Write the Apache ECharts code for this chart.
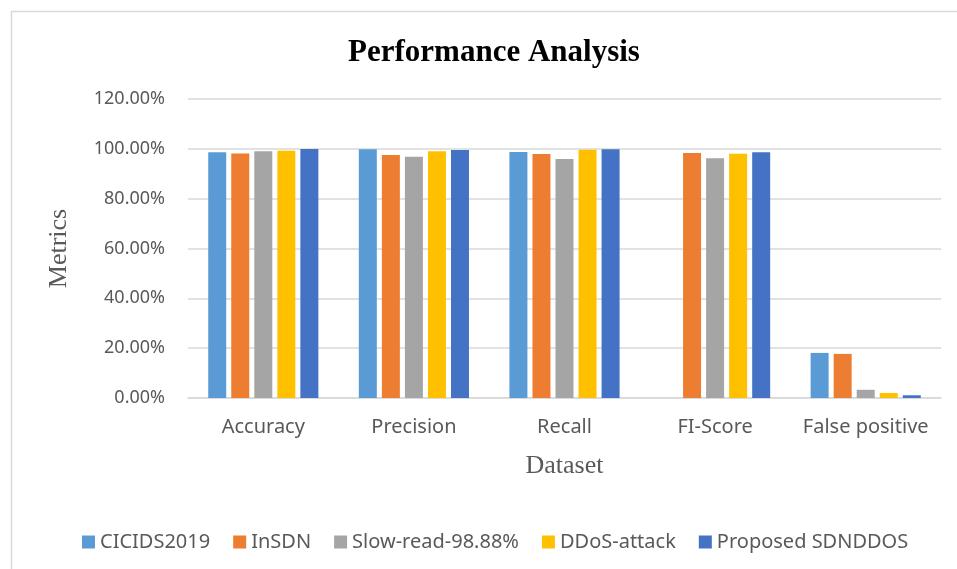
<!DOCTYPE html>
<html>
<head>
<meta charset="utf-8">
<script src="https://cdn.jsdelivr.net/npm/echarts@6/dist/echarts.min.js"></script>
<style>
html, body { margin: 0; padding: 0; background: #fff; }
#main { width: 957px; height: 569px; }
</style>
</head>
<body>
<div id="main"></div>
<script>
// categories + series values (percent)
var categories = ["Accuracy", "Precision", "Recall", "FI-Score", "False positive"];
var seriesNames = ["CICIDS2019", "InSDN", "Slow-read-98.88%", "DDoS-attack", "Proposed SDNDDOS"];
var cicids = [98.6, 99.8, 98.7, null, 18.1];
var insdn = [98.1, 97.5, 97.9, 98.3, 17.7];
var slowRead = [99.0, 96.8, 95.9, 96.2, 3.3];
var ddos = [99.2, 99.0, 99.6, 98.0, 2.0];
var proposed = [99.9, 99.5, 99.8, 98.6, 1.1];
var yTicks = [0, 20, 40, 60, 80, 100, 120];

var colors = ["#5B9BD5", "#ED7D31", "#A5A5A5", "#FFC000", "#4472C4"];
var allData = [cicids, insdn, slowRead, ddos, proposed];

var myChart = echarts.init(document.getElementById("main"));

var series = [];
seriesNames.forEach(function (name, i) {
  series.push({
    name: name,
    type: "bar",
    data: allData[i],
    barWidth: 18,
    barGap: "28%",
    itemStyle: { color: colors[i] }
  });
});

myChart.setOption({
  animation: false,
  color: colors,
  title: {
    text: "Performance Analysis",
    left: 489,
    textAlign: "center",
    top: 32,
    textStyle: {
      fontFamily: "Liberation Serif",
      fontWeight: "bold",
      fontSize: 31,
      color: "#000"
    }
  },
  legend: {
    data: seriesNames,
    left: 77,
    top: 527,
    itemWidth: 13,
    itemHeight: 13,
    itemGap: 23,
    icon: "rect",
    textStyle: { fontFamily: "Noto Sans", fontSize: 20, color: "#595959" }
  },
  grid: { left: 188, right: 16, top: 99, bottom: 171 },
  xAxis: {
    type: "category",
    data: categories,
    name: "Dataset",
    nameLocation: "middle",
    nameGap: 55,
    nameTextStyle: { fontFamily: "Liberation Serif", fontSize: 26, color: "#595959" },
    axisLine: { lineStyle: { color: "#D9D9D9", width: 1.5 } },
    axisTick: { show: false },
    axisLabel: { interval: 0, hideOverlap: false, margin: 19, fontFamily: "Noto Sans", fontSize: 20, color: "#595959" }
  },
  yAxis: {
    type: "value",
    min: yTicks[0],
    max: yTicks[yTicks.length - 1],
    interval: 20,
    name: "Metrics",
    nameLocation: "middle",
    nameGap: 116,
    nameTextStyle: { fontFamily: "Liberation Serif", fontSize: 26, color: "#595959" },
    axisLine: { show: false },
    axisTick: { show: false },
    splitLine: { lineStyle: { color: "#D9D9D9", width: 1.5 } },
    axisLabel: {
      margin: 23,
      fontFamily: "Noto Sans",
      fontSize: 18,
      color: "#595959",
      formatter: function (v) { return v.toFixed(2) + "%"; }
    }
  },
  graphic: [{
    type: "rect",
    left: 9,
    top: 9,
    shape: { width: 960, height: 580 },
    style: { fill: null, stroke: "#D9D9D9", lineWidth: 1.5 },
    z: -1
  }],
  series: series
});
</script>
</body>
</html>
